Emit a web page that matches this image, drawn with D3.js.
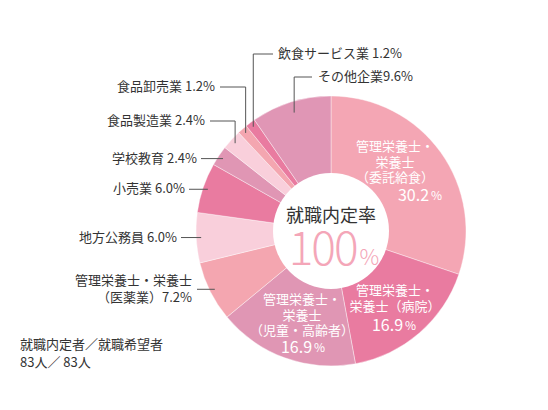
<!DOCTYPE html>
<html>
<head>
<meta charset="utf-8">
<script src="https://cdn.jsdelivr.net/npm/d3@7"></script>
<style>
  body { margin: 0; background: #fff; }
  text { font-family: "Noto Sans CJK JP", "Noto Sans", sans-serif; }
</style>
</head>
<body>
<div id="chart"></div>
<script>
// data
const categories = [
    '管理栄養士・栄養士（委託給食）',
    '管理栄養士・栄養士（病院）',
    '管理栄養士・栄養士（児童・高齢者）',
    '管理栄養士・栄養士（医薬業）',
    '地方公務員',
    '小売業',
    '学校教育',
    '食品製造業',
    '食品卸売業',
    '飲食サービス業',
    'その他企業'
];
const values = [30.2, 16.9, 16.9, 7.2, 6.0, 6.0, 2.4, 2.4, 1.2, 1.2, 9.6];
const colors = ['#f4a6b4', '#e97ba0', '#e096b4', '#f4a6b0', '#f9cfdb', '#e97ba0',
    '#e096b4', '#f9cfdb', '#f4a6b0', '#e97ba0', '#e096b5'];
const centerTitle = '就職内定率';
const centerValue = '100';
const footnote = ['就職内定者／就職希望者', '83人／ 83人'];

const width = 548, height = 410;
const cx = 331, cy = 231, outerR = 135, innerR = 58;

const svg = d3.select('#chart').append('svg')
    .attr('width', width)
    .attr('height', height);

const g = svg.append('g').attr('transform', `translate(${cx},${cy})`);

const pie = d3.pie().sort(null).value(d => d);
const arcs = pie(values);
const arc = d3.arc().innerRadius(0).outerRadius(outerR);

g.selectAll('path.slice')
    .data(arcs)
    .join('path')
    .attr('class', 'slice')
    .attr('d', arc)
    .attr('fill', (d, i) => colors[i])
    .attr('stroke', '#fff')
    .attr('stroke-width', 0.4);

// centre hole
g.append('circle').attr('r', innerR).attr('fill', '#fff');
g.append('text')
    .attr('text-anchor', 'middle')
    .attr('y', -9)
    .attr('font-size', 18)
    .attr('fill', '#333')
    .text(centerTitle);
const big = g.append('text')
    .attr('text-anchor', 'middle')
    .attr('x', 3)
    .attr('y', 34)
    .attr('fill', '#f4a6b8')
    .attr('font-weight', 300);
big.append('tspan').attr('font-size', 46).attr('letter-spacing', -2).text(centerValue);
big.append('tspan').attr('font-size', 22).attr('dx', 3).text('%');

// point on a slice at radius r, in page coordinates
const pointAt = (i, r) => {
    const a = (arcs[i].startAngle + arcs[i].endAngle) / 2;
    return [cx + r * Math.sin(a), cy - r * Math.cos(a)];
};

// inside labels (white)
const inside = [
    {i: 0, x: 395, y: 147, lines: ['管理栄養士・', '栄養士', '（委託給食）'], num: '30.2', nx: 420, ny: 197},
    {i: 1, x: 395, y: 291, lines: ['管理栄養士・', '栄養士（病院）'], num: '16.9', nx: 394, ny: 327},
    {i: 2, x: 302, y: 300, lines: ['管理栄養士・', '栄養士', '（児童・高齢者）'], num: '16.9', nx: 303, ny: 349}
];
inside.forEach(d => {
    const t = svg.append('text')
        .attr('text-anchor', 'middle')
        .attr('fill', '#fff')
        .attr('font-size', 13)
        .attr('dominant-baseline', 'middle');
    d.lines.forEach((l, k) => {
        t.append('tspan').attr('x', d.x).attr('y', d.y + k * 15.5).text(l);
    });
    const n = svg.append('text')
        .attr('text-anchor', 'middle')
        .attr('fill', '#fff')
        .attr('dominant-baseline', 'middle')
        .attr('x', d.nx).attr('y', d.ny);
    n.append('tspan').attr('font-size', 16).text(d.num);
    n.append('tspan').attr('font-size', 12).attr('dx', 2).text('%');
});

// outside labels with leader lines
const outside = [
    {i: 9, type: 'elbow', ly: 54, lx2: 273, tx: 278, anchor: 'start', text: ['飲食サービス業 1.2%']},
    {i: 10, type: 'elbow', ly: 77, lx2: 312, tx: 318, anchor: 'start', text: ['その他企業9.6%']},
    {i: 8, type: 'elbow', ly: 87, lx2: 220, tx: 215, anchor: 'end', text: ['食品卸売業 1.2%']},
    {i: 7, type: 'elbow', ly: 121, lx2: 210, tx: 205, anchor: 'end', text: ['食品製造業 2.4%']},
    {i: 6, type: 'straight', lx2: 201, tx: 197, anchor: 'end', text: ['学校教育 2.4%']},
    {i: 5, type: 'straight', lx2: 189, tx: 185, anchor: 'end', text: ['小売業 6.0%']},
    {i: 4, type: 'straight', lx2: 181, tx: 177, anchor: 'end', text: ['地方公務員 6.0%']},
    {i: 3, type: 'straight', lx2: 197, tx: 192, anchor: 'end', text: ['管理栄養士・栄養士', '（医薬業）7.2%']}
];
outside.forEach(d => {
    const [px, py] = pointAt(d.i, d.i === 10 ? 124 : 130);
    let pts, ty;
    if (d.type === 'elbow') {
        pts = [[px, py], [px, d.ly], [d.lx2, d.ly]];
        ty = d.ly;
    } else {
        pts = [[px, py], [d.lx2, py]];
        ty = py;
    }
    svg.append('path')
        .attr('d', d3.line()(pts))
        .attr('fill', 'none')
        .attr('stroke', '#555')
        .attr('stroke-width', 1);
    const t = svg.append('text')
        .attr('text-anchor', d.anchor)
        .attr('font-size', 13)
        .attr('fill', '#333')
        .attr('dominant-baseline', 'middle');
    const off = (d.text.length - 1) * 8.5;
    d.text.forEach((l, k) => {
        t.append('tspan').attr('x', d.tx).attr('y', ty - off + k * 17).text(l);
    });
});

// footnote
svg.append('text')
    .attr('font-size', 13)
    .attr('fill', '#333')
    .attr('dominant-baseline', 'middle')
    .selectAll('tspan')
    .data(footnote)
    .join('tspan')
    .attr('x', 20)
    .attr('y', (d, i) => 345 + i * 18)
    .text(d => d);
</script>
</body>
</html>
